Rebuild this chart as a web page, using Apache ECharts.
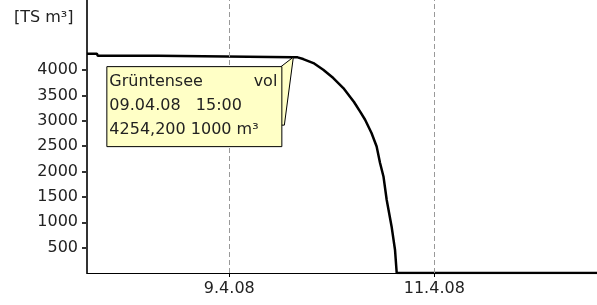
<!DOCTYPE html>
<html>
<head>
<meta charset="utf-8">
<script src="https://cdn.jsdelivr.net/npm/echarts@6/dist/echarts.min.js"></script>
<style>
html, body { margin: 0; padding: 0; background: #fff; }
#chart { width: 597px; height: 305px; }
</style>
</head>
<body>
<div id="chart"></div>
<script>
// hours counted from 07.04.08 00:00
var hours = [14.68, 17.0, 17.2, 31.3, 31.5, 63, 64.0, 65.3, 67.7, 70.0, 72.35, 74.7, 77.2, 78.6, 79.8, 81.3, 82.5, 83.3, 84.1, 84.85, 86.0, 86.8, 87.2, 134.1];
var volume = [4320, 4320, 4280, 4280, 4255, 4254.2, 4250, 4216, 4137, 4005, 3842, 3645, 3370, 3184, 3020, 2758, 2494, 2167, 1903, 1444, 918, 459, 0, 0];

var xTickHours = [48, 96];
var xTickLabels = ["9.4.08", "11.4.08"];
var yTicks = [500, 1000, 1500, 2000, 2500, 3000, 3500, 4000];

var tipHour = 63;
var tipValue = 4254.2;
var tipLines = ["Grüntensee", "09.04.08   15:00", "4254,200 1000 m³"];
var tipRight = "vol";

var font = "DejaVu Sans";
var textColor = "#222";

var chart = echarts.init(document.getElementById("chart"));

var points = [];
for (var i = 0; i < hours.length; i++) {
    points.push([hours[i], volume[i]]);
}

var option = {
    animation: false,
    grid: { left: 87, right: 0, top: 0, bottom: 32 },
    xAxis: {
        type: "value",
        min: 14.68,
        max: 134.1,
        axisLine: { lineStyle: { color: "#000", width: 1 } },
        axisTick: {
            customValues: xTickHours,
            length: 4,
            lineStyle: { color: "#000", width: 1 }
        },
        axisLabel: {
            customValues: xTickHours,
            margin: 8,
            fontFamily: font,
            fontSize: 16,
            color: textColor,
            formatter: function (v) {
                var idx = xTickHours.indexOf(v);
                return idx >= 0 ? xTickLabels[idx] : "";
            }
        },
        splitLine: { show: false }
    },
    yAxis: {
        type: "value",
        min: 0,
        max: 5380,
        axisLine: { show: true, lineStyle: { color: "#333", width: 2 } },
        axisTick: {
            show: true,
            customValues: yTicks,
            length: 5,
            lineStyle: { color: "#333", width: 2 }
        },
        axisLabel: {
            customValues: yTicks,
            margin: 9,
            fontFamily: font,
            fontSize: 16,
            color: textColor,
            formatter: function (v) { return String(v); }
        },
        splitLine: { show: false }
    },
    series: [{
        type: "line",
        data: points,
        showSymbol: false,
        lineStyle: { color: "#000", width: 2.5 },
        z: 3,
        markLine: {
            silent: true,
            symbol: ["none", "none"],
            label: { show: false },
            lineStyle: { color: "#999", type: [5, 3], width: 1 },
            data: xTickHours.map(function (h) { return { xAxis: h }; })
        }
    }],
    graphic: [{
        type: "text",
        left: 14,
        top: 10,
        style: {
            text: "[TS m³]",
            font: "16px " + font,
            fill: textColor
        }
    }]
};
chart.setOption(option);

// static tooltip box, anchored on the data point
var p = chart.convertToPixel({ seriesIndex: 0 }, [tipHour, tipValue]);
var bx = p[0] - 187, by = p[1] + 9, bw = 175, bh = 80;
var tipBg = "#ffffc6";
var tipEls = [
    {
        type: "polygon",
        z: 100,
        shape: { points: [[bx + bw - 1, by + 1], [p[0], p[1]], [bx + bw + 3, by + 59], [bx + bw - 1, by + 59]] },
        style: { fill: tipBg, stroke: "#000", lineWidth: 1 }
    },
    {
        type: "rect",
        z: 101,
        shape: { x: bx + 0.5, y: by + 0.5, width: bw, height: bh },
        style: { fill: tipBg, stroke: "#000", lineWidth: 1 }
    },
    {
        type: "text",
        z: 102,
        x: bx + bw - 4,
        y: by + 16,
        style: { text: tipRight, font: "16px " + font, fill: textColor, align: "right", verticalAlign: "middle" }
    }
];
for (var j = 0; j < tipLines.length; j++) {
    tipEls.push({
        type: "text",
        z: 102,
        x: bx + 3,
        y: by + 16 + j * 24,
        style: { text: tipLines[j], font: "16px " + font, fill: textColor, verticalAlign: "middle" }
    });
}
chart.setOption({ graphic: option.graphic.concat(tipEls) }, { replaceMerge: ["graphic"] });
</script>
</body>
</html>
